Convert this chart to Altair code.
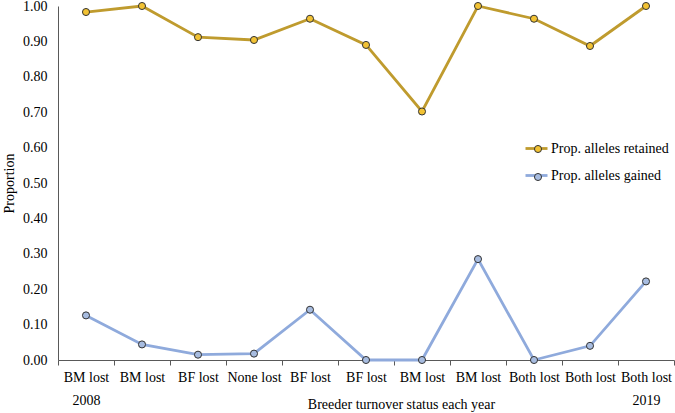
import altair as alt
import pandas as pd

# Breeder turnover status per year, 2008 to 2019
categories = ["BM lost", "BM lost", "BF lost", "None lost", "BF lost", "BF lost",
              "BM lost", "BM lost", "Both lost", "Both lost", "Both lost"]
year_notes = ["2008", "", "", "", "", "", "", "", "", "", "2019"]
retained = [0.983, 1.000, 0.912, 0.904, 0.964, 0.890, 0.702, 1.000, 0.964, 0.887, 1.000]
gained = [0.126, 0.044, 0.015, 0.018, 0.142, 0.000, 0.000, 0.285, 0.000, 0.040, 0.222]
series_names = ["Prop. alleles retained", "Prop. alleles gained"]
marker_keys = ["retained marker", "gained marker"]
line_colors = ["#BF9B2E", "#8FAADC"]
point_colors = ["#F2C233", "#A7BCE0"]

rows = []
for i in range(len(categories)):
    rows.append({"pos": i + 0.5, "value": retained[i],
                 "series": series_names[0], "marker": marker_keys[0]})
    rows.append({"pos": i + 0.5, "value": gained[i],
                 "series": series_names[1], "marker": marker_keys[1]})
df = pd.DataFrame(rows)

label_items = []
for c, y in zip(categories, year_notes):
    label_items.append("['%s','%s']" % (c, y) if y else "'%s'" % c)
label_expr = "[" + ",".join(label_items) + "][floor(datum.value)]"

FONT = "Liberation Serif"
n = len(categories)
x_scale = alt.Scale(domain=[0, n], nice=False, zero=False)
y_scale = alt.Scale(domain=[0, 1], nice=False)


def y_enc():
    return alt.Y(
        "value:Q", scale=y_scale,
        axis=alt.Axis(values=[round(v * 0.1, 1) for v in range(11)], format=".2f",
                      title="Proportion", titleFontWeight="normal", titleFont=FONT,
                      titleFontSize=14, titlePadding=6, labelFont=FONT,
                      labelFontSize=14, labelColor="#000000", titleColor="#000000",
                      ticks=False, grid=False, domainColor="#595959",
                      labelPadding=11),
    )


lines = alt.Chart(df).mark_line(strokeWidth=2.8).encode(
    x=alt.X("pos:Q", scale=x_scale,
            axis=alt.Axis(values=list(range(n + 1)), labels=False, title=None,
                          tickSize=5, tickColor="#595959", domainColor="#595959",
                          grid=False, orient="bottom")),
    y=y_enc(),
    stroke=alt.Stroke("series:N",
                      scale=alt.Scale(domain=series_names, range=line_colors),
                      legend=alt.Legend(orient="none", legendX=466, legendY=130,
                                        title=None, symbolType="M-1,0H1",
                                        symbolSize=484, symbolStrokeWidth=2.8,
                                        labelFont=FONT, labelFontSize=14,
                                        labelColor="#000000", rowPadding=7,
                                        labelOffset=2)),
    detail="series:N",
)

points = alt.Chart(df).mark_point(filled=True, size=50, stroke="#333333",
                                  strokeWidth=1, opacity=1).encode(
    x=alt.X("pos:Q", scale=x_scale,
            axis=alt.Axis(values=[i + 0.5 for i in range(n)], labelExpr=label_expr,
                          ticks=False, domain=False, grid=False, orient="bottom",
                          labelFont=FONT, labelFontSize=14, labelColor="#000000",
                          labelLineHeight=23, labelPadding=10, labelBaseline="top",
                          title="Breeder turnover status each year",
                          titleFont=FONT, titleFontSize=14, titleFontWeight="normal",
                          titleColor="#000000", titleX=343, titleY=37,
                          labelAngle=0)),
    y=y_enc(),
    fill=alt.Fill("marker:N",
                  scale=alt.Scale(domain=marker_keys, range=point_colors),
                  legend=alt.Legend(orient="none", legendX=473, legendY=136,
                                    title=None, symbolType="circle", symbolSize=50,
                                    symbolStrokeColor="#333333", symbolStrokeWidth=1,
                                    labelExpr="''", rowPadding=14, labelFontSize=14)),
)

chart = alt.layer(lines, points).resolve_axis(x="independent").properties(
    width=616, height=354,
    autosize=alt.AutoSizeParams(type="none"),
    padding={"left": 58, "top": 6, "right": 1, "bottom": 53},
    background="#ffffff",
).configure_view(stroke=None)

chart.save("out.html", embed_options={"renderer": "svg", "actions": False})
